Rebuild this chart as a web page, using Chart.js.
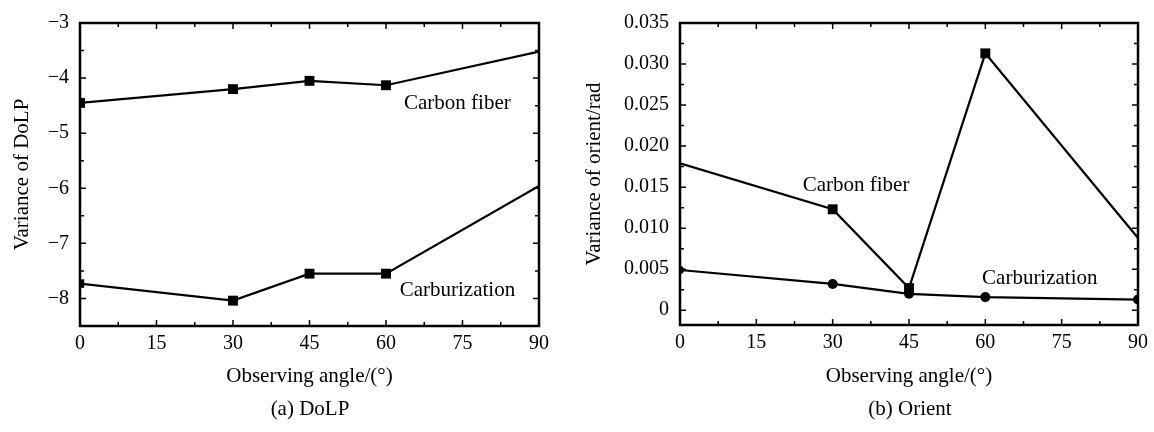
<!DOCTYPE html>
<html>
<head>
<meta charset="utf-8">
<title>Variance of DoLP and Orient vs observing angle</title>
<script src="https://cdn.jsdelivr.net/npm/chart.js@4.4.1/dist/chart.umd.min.js"></script>
<style>
  body { margin: 0; background: #fff; }
  #wrap { position: relative; width: 1154px; height: 432px; font-family: "Liberation Serif", "Times New Roman", serif; }
  .panel { position: absolute; top: 0; width: 577px; height: 432px; }
  .caption { position: absolute; top: 396px; width: 200px; text-align: center; font-size: 21px; line-height: 24px; color: #000; }
</style>
</head>
<body>
<div id="wrap">
  <div class="panel" style="left:0"><canvas id="dolp" width="577" height="432"></canvas></div>
  <div class="panel" style="left:577px"><canvas id="orient" width="577" height="432"></canvas></div>
  <div class="caption" style="left:210px">(a) DoLP</div>
  <div class="caption" style="left:810px">(b) Orient</div>
</div>
<script>
// data
var angles = [0, 30, 45, 60, 90];
var dolpCarbonFiber = [-4.45, -4.2, -4.05, -4.13, -3.52];
var dolpCarburization = [-7.73, -8.04, -7.55, -7.55, -5.96];
var orientCarbonFiber = [0.0179, 0.0123, 0.0027, 0.0313, 0.0088];
var orientCarburization = [0.0049, 0.0032, 0.0020, 0.0016, 0.0013];

var angleTicks = [0, 15, 30, 45, 60, 75, 90];
var dolpTicks = [-8, -7, -6, -5, -4, -3];
var orientTicks = [0, 0.005, 0.010, 0.015, 0.020, 0.025, 0.030, 0.035];

var FONT = '"Liberation Serif", "Times New Roman", serif';
Chart.defaults.font.family = FONT;
Chart.defaults.color = '#000';

function points(xs, ys) {
  return xs.map(function(x, i) { return {x: x, y: ys[i]}; });
}

// frame, inward ticks on all four sides, and the in-plot labels
var frameTicks = {
  id: 'frameTicks',
  afterDatasetsDraw: function(chart, args, opts) {
    var ctx = chart.ctx, a = chart.chartArea;
    var xs = chart.scales.x, ys = chart.scales.y;
    function marks(scale, majors) {
      var out = [];
      var step = majors[1] - majors[0];
      majors.forEach(function(v, i) {
        out.push({v: v, len: 6});
        out.push({v: v + step / 2, len: 4});
        if (i === 0) out.push({v: v - step / 2, len: 4});
      });
      return out.filter(function(m) { return m.v >= scale.min - 1e-9 && m.v <= scale.max + 1e-9; });
    }
    ctx.save();
    ctx.strokeStyle = '#000';
    ctx.lineWidth = 1.5;
    ctx.beginPath();
    marks(xs, opts.xMajors).forEach(function(m) {
      var px = xs.getPixelForValue(m.v);
      ctx.moveTo(px, a.bottom); ctx.lineTo(px, a.bottom - m.len);
      ctx.moveTo(px, a.top); ctx.lineTo(px, a.top + m.len);
    });
    marks(ys, opts.yMajors).forEach(function(m) {
      var py = ys.getPixelForValue(m.v);
      ctx.moveTo(a.left, py); ctx.lineTo(a.left + m.len, py);
      ctx.moveTo(a.right, py); ctx.lineTo(a.right - m.len, py);
    });
    ctx.stroke();
    ctx.lineWidth = 2.5;
    ctx.strokeRect(a.left, a.top, a.right - a.left, a.bottom - a.top);
    ctx.fillStyle = '#000';
    ctx.font = '21px ' + FONT;
    ctx.textAlign = 'center';
    ctx.textBaseline = 'middle';
    (opts.labels || []).forEach(function(l) {
      ctx.fillText(l.text, xs.getPixelForValue(l.x), ys.getPixelForValue(l.y));
    });
    ctx.restore();
  }
};

function lineSet(label, ys, style, radii) {
  return {
    label: label,
    data: points(angles, ys),
    borderColor: '#000',
    backgroundColor: '#000',
    borderWidth: 2.2,
    pointStyle: style,
    pointRadius: radii,
    pointBorderWidth: 0,
    tension: 0
  };
}

function makeChart(id, cfg) {
  return new Chart(document.getElementById(id), {
    type: 'line',
    data: { datasets: cfg.datasets },
    options: {
      responsive: false,
      animation: false,
      devicePixelRatio: 1,
      layout: { padding: { top: cfg.top, right: cfg.right, left: 0, bottom: 0 } },
      plugins: {
        legend: { display: false },
        tooltip: { enabled: false },
        frameTicks: { xMajors: angleTicks, yMajors: cfg.yTicks, labels: cfg.labels }
      },
      scales: {
        x: {
          type: 'linear',
          min: 0, max: 90,
          grid: { display: false, drawTicks: false },
          border: { display: false },
          afterBuildTicks: function(s) { s.ticks = angleTicks.map(function(v) { return {value: v}; }); },
          afterFit: function(s) { s.height = 432 - cfg.bottom; },
          ticks: { font: { size: 20 }, padding: 6, maxRotation: 0, autoSkip: false },
          title: { display: true, text: 'Observing angle/(°)', font: { size: 21 }, padding: { bottom: 43 } }
        },
        y: {
          min: cfg.yMin, max: cfg.yMax,
          grid: { display: false, drawTicks: false },
          border: { display: false },
          afterBuildTicks: function(s) { s.ticks = cfg.yTicks.map(function(v) { return {value: v}; }); },
          afterFit: function(s) { s.width = cfg.left; },
          ticks: { font: { size: 20 }, padding: 11, autoSkip: false, callback: cfg.fmt },
          title: { display: true, text: cfg.yTitle, font: { size: 21 }, padding: { top: cfg.yTitlePad } }
        }
      }
    },
    plugins: [frameTicks]
  });
}

makeChart('dolp', {
  datasets: [
    lineSet('Carbon fiber', dolpCarbonFiber, 'rect', [7, 7, 7, 7, 0]),
    lineSet('Carburization', dolpCarburization, 'rect', [6, 7, 7, 7, 0])
  ],
  top: 18, right: 38, bottom: 326, left: 80,
  yMin: -8.5, yMax: -3, yTicks: dolpTicks,
  yTitle: 'Variance of DoLP', yTitlePad: 10,
  fmt: function(v) { return String(v).replace('-', '\u2212'); },
  labels: [
    {text: 'Carbon fiber', x: 74, y: -4.47},
    {text: 'Carburization', x: 74, y: -7.86}
  ]
});

makeChart('orient', {
  datasets: [
    lineSet('Carbon fiber', orientCarbonFiber, 'rect', [0, 7, 7, 7, 0]),
    lineSet('Carburization', orientCarburization, 'circle', [4, 5, 5, 5, 5])
  ],
  top: 17, right: 14, bottom: 325, left: 103,
  yMin: -0.0018, yMax: 0.035, yTicks: orientTicks,
  yTitle: 'Variance of orient/rad', yTitlePad: 5,
  fmt: function(v) { return v === 0 ? '0' : v.toFixed(3); },
  labels: [
    {text: 'Carbon fiber', x: 34.6, y: 0.0152},
    {text: 'Carburization', x: 70.7, y: 0.0039}
  ]
});
</script>
</body>
</html>
